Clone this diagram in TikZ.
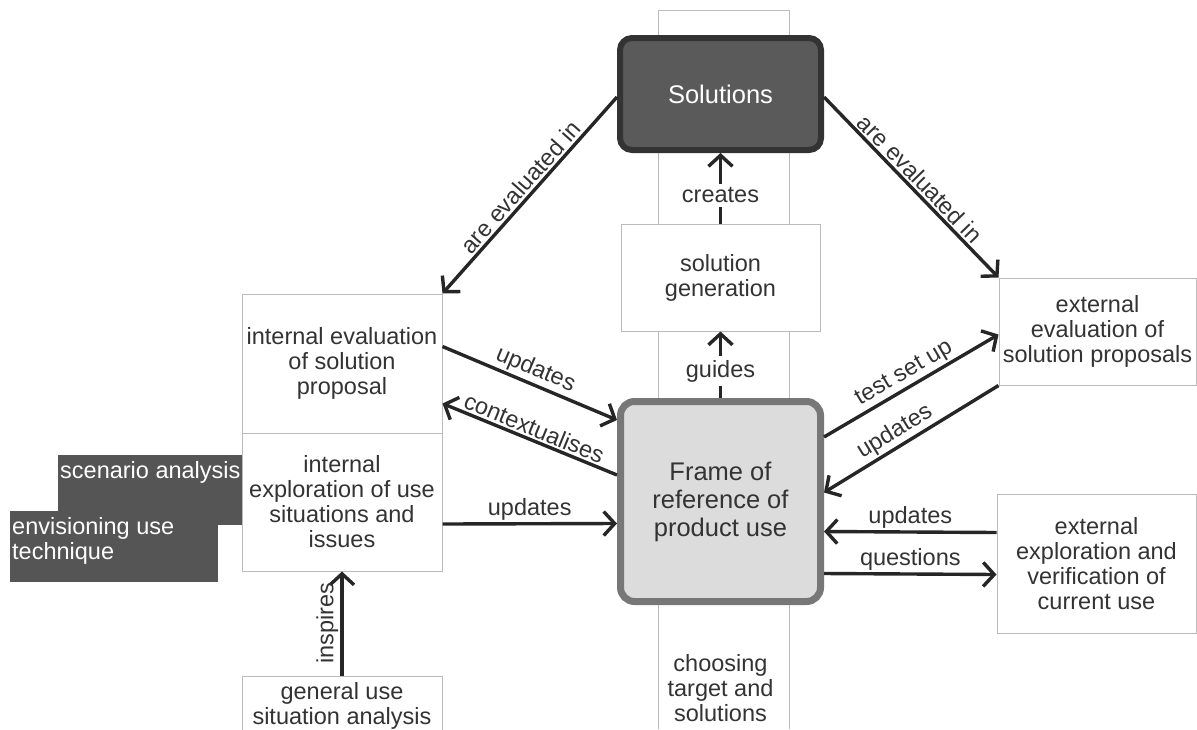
\documentclass[tikz,border=0pt]{standalone}
\usepackage{fontspec}
\setmainfont{Liberation Sans}
\usetikzlibrary{arrows.meta}

\definecolor{inkgray}{HTML}{333333}
\definecolor{linegray}{HTML}{BBBBBB}
\definecolor{solfill}{HTML}{5A5A5A}
\definecolor{solrim}{HTML}{333333}
\definecolor{framefill}{HTML}{DCDCDC}
\definecolor{framerim}{HTML}{777777}
\definecolor{darkfill}{HTML}{555555}

\begin{document}
\begin{tikzpicture}[x=1pt, y=-1pt,
  every node/.style={font=\fontsize{23.5}{25}\selectfont, text=inkgray},
  box/.style={draw=linegray, line width=1pt, fill=white, align=center, inner sep=0pt},
  darkbox/.style={fill=darkfill, inner sep=0pt, anchor=north west},
  darktext/.style={anchor=north west, text=white, align=left, inner xsep=2pt, inner ysep=6pt},
  arr/.style={draw=black!85, line width=3.4pt, -{Straight Barb[length=11pt, width=24pt]}},
  lbl/.style={midway, sloped, above, inner sep=2pt},
  cut/.style={pos=0.4, fill=white, inner sep=4pt}]
  \useasboundingbox (0,0) rectangle (1197,729);
  \draw[linegray, line width=1pt] (658,729) -- (658,10) -- (789,10) -- (789,729);
  \node[align=center] (choose) at (720.5,688) {choosing\\target and\\solutions};
  \node[draw=solrim, line width=6pt, fill=solfill, rounded corners=12pt, minimum width=201pt, minimum height=112pt, text=white, font=\fontsize{25.5}{30}\selectfont] (sol) at (720.5,94) {Solutions};
  \node[box, minimum width=199pt, minimum height=107pt] (gen) at (720.5,277.5) {solution\\generation};
  \node[draw=framerim, line width=7pt, fill=framefill, rounded corners=14pt, minimum width=200pt, minimum height=200pt, align=center, font=\fontsize{25.5}{28}\selectfont] (frame) at (720.5,501.5) {Frame of\\reference of\\product use};
  \node[darkbox, minimum width=184pt, minimum height=70pt, label={[darktext]north west:scenario analysis}] (scen) at (58,455) {};
  \node[darkbox, minimum width=208pt, minimum height=71pt, label={[darktext]north west:{envisioning use\\technique}}] (envis) at (10,511) {};
  \node[box, minimum width=200pt, minimum height=139pt] (ieval) at (342,363.5) {internal evaluation\\of solution\\proposal};
  \node[box, minimum width=200pt, minimum height=138pt] (iexpl) at (342,502) {internal\\exploration of use\\situations and\\issues};
  \node[box, minimum width=200pt, minimum height=60pt] (general) at (342,706) {general use\\situation analysis};
  \node[box, minimum width=197pt, minimum height=107pt] (eeval) at (1097.5,331.5) {external\\evaluation of\\solution proposals};
  \node[box, minimum width=199pt, minimum height=139pt] (eexpl) at (1096.5,563.5) {external\\exploration and\\verification of\\current use};
  \draw[arr] ([yshift=-3pt]sol.west) -- (ieval.north east) node[lbl] {are evaluated in};
  \draw[arr] ([yshift=-3pt]sol.east) -- (eeval.north west) node[lbl] {are evaluated in};
  \draw[arr] (gen.north) -- (sol.south) node[cut] {creates};
  \draw[arr] (frame.north) -- (gen.south) node[cut] {guides};
  \draw[arr] ([yshift=17pt]ieval.east) -- ([yshift=-22pt]frame.north west) node[lbl] {updates};
  \draw[arr] ([yshift=-77pt]frame.north west) -- ([yshift=30pt]ieval.south east) node[lbl] {contextualises};
  \draw[arr] ([yshift=-22pt]iexpl.east) -- ([yshift=-22pt]frame.west) node[lbl] {updates};
  \draw[arr] (general.north) -- (iexpl.south) node[lbl] {inspires};
  \draw[arr] ([yshift=-39pt]frame.north east) -- ([yshift=-3pt]eeval.west) node[lbl] {test set up};
  \draw[arr] (eeval.south west) -- ([yshift=9pt]frame.east) node[lbl, pos=0.55] {updates};
  \draw[arr] ([yshift=31pt]eexpl.west) -- ([yshift=-30pt]frame.east) node[lbl] {updates};
  \draw[arr] ([yshift=-72pt]frame.east) -- ([yshift=-11pt]eexpl.west) node[lbl] {questions};
\end{tikzpicture}
\end{document}
